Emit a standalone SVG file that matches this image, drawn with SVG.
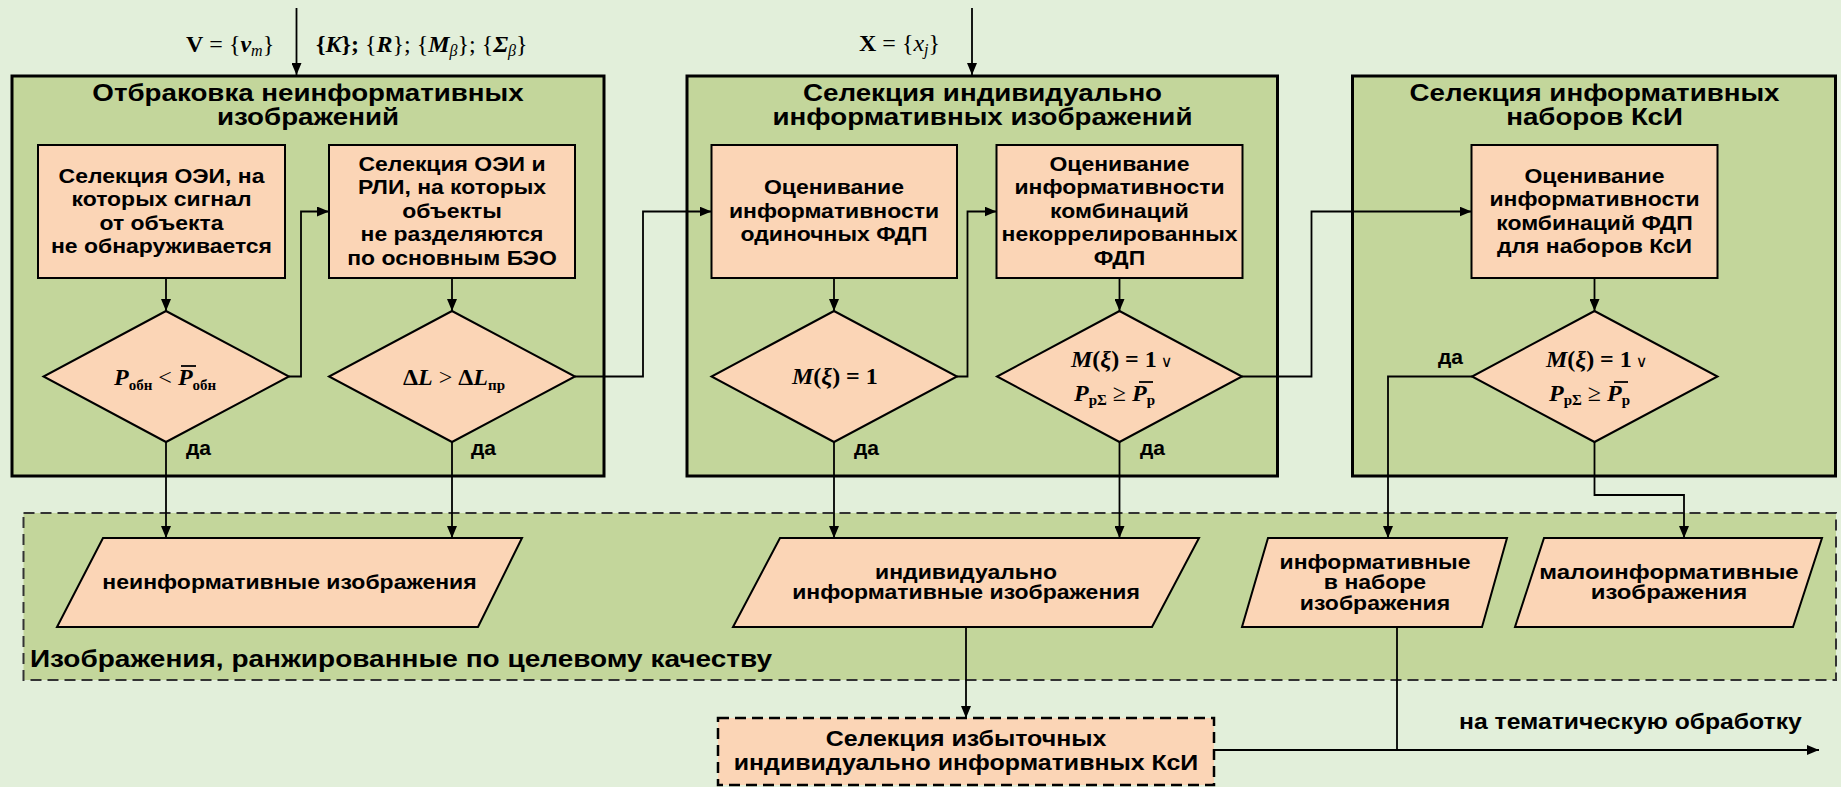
<svg xmlns="http://www.w3.org/2000/svg" width="1841" height="787" viewBox="0 0 1841 787">
<style>
.panel{fill:#C3D69B;stroke:#000;stroke-width:3}
.box{fill:#FBD5B6;stroke:#000;stroke-width:2}
.dbox{fill:#FBD5B6;stroke:#000;stroke-width:2.5;stroke-dasharray:11 6}
.region{fill:#C3D69B;stroke:#333;stroke-width:2;stroke-dasharray:11 6}
.c{fill:none;stroke:#000;stroke-width:1.8}
.t{font-family:"Liberation Sans",Arial,sans-serif;font-weight:bold;font-size:20.5px;fill:#000;text-anchor:middle}
.title{font-size:23.5px}
.p{font-size:19.5px}
.f{font-size:21.5px}
.lab{font-family:"Liberation Sans",Arial,sans-serif;font-weight:bold;font-size:24.5px;fill:#000}
.da{font-family:"Liberation Sans",Arial,sans-serif;font-weight:bold;font-size:21px;fill:#000}
.m{font-family:"Liberation Serif","Times New Roman",serif;font-size:24px;fill:#000}
.bi{font-weight:bold;font-style:italic}
.b{font-weight:bold}
.i{font-style:italic}
.sub{font-size:15px;font-weight:bold;font-style:normal}
.or{font-family:"DejaVu Sans",sans-serif;font-size:16px;font-weight:normal;font-style:normal}
.ol{stroke:#000;stroke-width:1.8}
</style>
<defs>
<marker id="ah" markerUnits="userSpaceOnUse" markerWidth="12" markerHeight="10" refX="12" refY="5" orient="auto">
<path d="M0,0 L12,5 L0,10 z" fill="#000"/>
</marker>
</defs>
<rect width="1841" height="787" fill="#E2EFDA"/>

<g id="panel1"><rect class="panel" x="12" y="76" width="592" height="400"/>
<g transform="translate(308 0) scale(1.18 1)">
<text class="t title" x="0" y="101">Отбраковка неинформативных</text>
<text class="t title" x="0" y="125">изображений</text></g></g>
<g id="panel2"><rect class="panel" x="687" y="76" width="590.5" height="400"/>
<g transform="translate(982.5 0) scale(1.18 1)">
<text class="t title" x="0" y="101">Селекция индивидуально</text>
<text class="t title" x="0" y="125">информативных изображений</text></g></g>
<g id="panel3"><rect class="panel" x="1352.5" y="76" width="483" height="400"/>
<g transform="translate(1594.5 0) scale(1.18 1)">
<text class="t title" x="0" y="101">Селекция информативных</text>
<text class="t title" x="0" y="125">наборов КсИ</text></g></g>

<g id="region"><rect class="region" x="23.5" y="513" width="1812.5" height="167"/>
<text class="lab" transform="translate(30 0) scale(1.143 1)" x="0" y="667">Изображения, ранжированные по целевому качеству</text></g>

<g id="connectors">
<path class="c" d="M296.5,8 V75" marker-end="url(#ah)"/>
<path class="c" d="M972,8 V75" marker-end="url(#ah)"/>
<path class="c" d="M166,278 V311" marker-end="url(#ah)"/>
<path class="c" d="M289,376.5 H301 V211.5 H329" marker-end="url(#ah)"/>
<path class="c" d="M452,278 V311" marker-end="url(#ah)"/>
<path class="c" d="M166,442 V538" marker-end="url(#ah)"/>
<path class="c" d="M452,442 V538" marker-end="url(#ah)"/>
<path class="c" d="M575,376.5 H643 V211.5 H711.5" marker-end="url(#ah)"/>
<path class="c" d="M834,278 V311" marker-end="url(#ah)"/>
<path class="c" d="M957,376.5 H967.5 V211.5 H996.5" marker-end="url(#ah)"/>
<path class="c" d="M1119.5,278 V311" marker-end="url(#ah)"/>
<path class="c" d="M834,442 V538" marker-end="url(#ah)"/>
<path class="c" d="M1119.5,442 V538" marker-end="url(#ah)"/>
<path class="c" d="M1242,376.5 H1311.5 V211.5 H1471.5" marker-end="url(#ah)"/>
<path class="c" d="M1594.5,278 V311" marker-end="url(#ah)"/>
<path class="c" d="M1472,376.5 H1388 V538" marker-end="url(#ah)"/>
<path class="c" d="M1594.5,442 V495 H1684 V538" marker-end="url(#ah)"/>
<path class="c" d="M966,627 V718" marker-end="url(#ah)"/>
<path class="c" d="M1397,627 V750"/>
<path class="c" d="M1214,750 H1819" marker-end="url(#ah)"/>
</g>

<g id="boxA"><rect class="box" x="38" y="145" width="247" height="133"/>
<g transform="translate(161.5 0) scale(1.12 1)">
<text class="t" x="0" y="183">Селекция ОЭИ, на</text>
<text class="t" x="0" y="206.5">которых сигнал</text>
<text class="t" x="0" y="230">от объекта</text>
<text class="t" x="0" y="253.5">не обнаруживается</text></g></g>

<g id="boxB"><rect class="box" x="329" y="145" width="246" height="133"/>
<g transform="translate(452 0) scale(1.12 1)">
<text class="t" x="0" y="171">Селекция ОЭИ и</text>
<text class="t" x="0" y="194.5">РЛИ, на которых</text>
<text class="t" x="0" y="218">объекты</text>
<text class="t" x="0" y="241.5">не разделяются</text>
<text class="t" x="0" y="265">по основным БЭО</text></g></g>

<g id="boxC"><rect class="box" x="711.5" y="145" width="245.5" height="133"/>
<g transform="translate(834 0) scale(1.12 1)">
<text class="t" x="0" y="194.5">Оценивание</text>
<text class="t" x="0" y="218">информативности</text>
<text class="t" x="0" y="241.5">одиночных ФДП</text></g></g>

<g id="boxD"><rect class="box" x="996.5" y="145" width="246" height="133"/>
<g transform="translate(1119.5 0) scale(1.12 1)">
<text class="t" x="0" y="171">Оценивание</text>
<text class="t" x="0" y="194.5">информативности</text>
<text class="t" x="0" y="218">комбинаций</text>
<text class="t" x="0" y="241.5">некоррелированных</text>
<text class="t" x="0" y="265">ФДП</text></g></g>

<g id="boxE"><rect class="box" x="1471.5" y="145" width="246" height="133"/>
<g transform="translate(1594.5 0) scale(1.12 1)">
<text class="t" x="0" y="183">Оценивание</text>
<text class="t" x="0" y="206.5">информативности</text>
<text class="t" x="0" y="230">комбинаций ФДП</text>
<text class="t" x="0" y="253.5">для наборов КсИ</text></g></g>

<g id="diamond1"><polygon class="box" points="166,311 289,376.5 166,442 43.5,376.5"/>
<text class="m" x="114" y="385"><tspan class="bi">P</tspan><tspan class="sub" dy="5">обн</tspan><tspan dy="-5"> &lt; </tspan><tspan class="bi">P</tspan><tspan class="sub" dy="5">обн</tspan></text>
<line class="ol" x1="181" y1="366" x2="196" y2="366"/></g>

<g id="diamond2"><polygon class="box" points="452,311 575,376.5 452,442 329,376.5"/>
<text class="m" x="403" y="385"><tspan class="b">Δ</tspan><tspan class="bi">L</tspan><tspan> &gt; </tspan><tspan class="b">Δ</tspan><tspan class="bi">L</tspan><tspan class="sub" dy="5">пр</tspan></text></g>

<g id="diamond3"><polygon class="box" points="834,311 957,376.5 834,442 711.5,376.5"/>
<text class="m b" x="792" y="384"><tspan class="i">M</tspan>(<tspan class="i">ξ</tspan>) = 1</text></g>

<g id="diamond4"><polygon class="box" points="1119.5,311 1242,376.5 1119.5,442 997,376.5"/>
<text class="m b" x="1071" y="367"><tspan class="i">M</tspan>(<tspan class="i">ξ</tspan>) = 1<tspan class="or" dx="4">∨</tspan></text>
<text class="m" x="1074" y="401"><tspan class="bi">P</tspan><tspan class="sub" dy="4">рΣ</tspan><tspan dy="-4"> ≥ </tspan><tspan class="bi">P</tspan><tspan class="sub" dy="4">р</tspan></text>
<line class="ol" x1="1139" y1="382" x2="1153" y2="382"/></g>

<g id="diamond5"><polygon class="box" points="1594.5,311 1717.5,376.5 1594.5,442 1472,376.5"/>
<text class="m b" x="1546" y="367"><tspan class="i">M</tspan>(<tspan class="i">ξ</tspan>) = 1<tspan class="or" dx="4">∨</tspan></text>
<text class="m" x="1549" y="401"><tspan class="bi">P</tspan><tspan class="sub" dy="4">рΣ</tspan><tspan dy="-4"> ≥ </tspan><tspan class="bi">P</tspan><tspan class="sub" dy="4">р</tspan></text>
<line class="ol" x1="1614" y1="382" x2="1628" y2="382"/></g>

<g id="labels">
<text class="da" x="186" y="455">да</text>
<text class="da" x="471" y="455">да</text>
<text class="da" x="854" y="455">да</text>
<text class="da" x="1140" y="455">да</text>
<text class="da" x="1438" y="364">да</text>
<text class="m" x="186" y="52"><tspan class="b">V</tspan> = {<tspan class="bi">v</tspan><tspan class="i" font-size="16" dy="4">m</tspan><tspan dy="-4">}</tspan></text>
<text class="m" x="316" y="52"><tspan class="b">{</tspan><tspan class="bi">K</tspan><tspan class="b">};</tspan> {<tspan class="bi">R</tspan>}; {<tspan class="bi">M</tspan><tspan class="i" font-size="16" dy="4">β</tspan><tspan dy="-4">}; {</tspan><tspan class="bi">Σ</tspan><tspan class="i" font-size="16" dy="4">β</tspan><tspan dy="-4">}</tspan></text>
<text class="m" x="859" y="51"><tspan class="b">X</tspan> = {<tspan class="i">x</tspan><tspan class="i" font-size="16" dy="4">j</tspan><tspan dy="-4">}</tspan></text>
<text class="lab" transform="translate(1459 0) scale(1.15 1)" x="0" y="729" style="font-size:21.5px">на тематическую обработку</text>
</g>

<g id="para1"><polygon class="box" points="103,538 522,538 478,627 57,627"/>
<text class="t p" transform="translate(289.5 0) scale(1.18 1)" x="0" y="589">неинформативные изображения</text></g>
<g id="para2"><polygon class="box" points="780,538 1199,538 1152,627 733,627"/>
<g transform="translate(966 0) scale(1.18 1)">
<text class="t p" x="0" y="579">индивидуально</text>
<text class="t p" x="0" y="599.5">информативные изображения</text></g></g>
<g id="para3"><polygon class="box" points="1268,538 1507,538 1482,627 1242,627"/>
<g transform="translate(1375 0) scale(1.18 1)">
<text class="t p" x="0" y="569">информативные</text>
<text class="t p" x="0" y="589.3">в наборе</text>
<text class="t p" x="0" y="609.6">изображения</text></g></g>
<g id="para4"><polygon class="box" points="1544,538 1822,538 1793,627 1515,627"/>
<g transform="translate(1669 0) scale(1.23 1)">
<text class="t p" x="0" y="579">малоинформативные</text>
<text class="t p" x="0" y="599.5">изображения</text></g></g>

<g id="boxF"><rect class="dbox" x="718" y="718" width="496" height="67"/>
<g transform="translate(966 0) scale(1.16 1)">
<text class="t f" x="0" y="746">Селекция избыточных</text>
<text class="t f" x="0" y="770">индивидуально информативных КсИ</text></g></g>
</svg>
